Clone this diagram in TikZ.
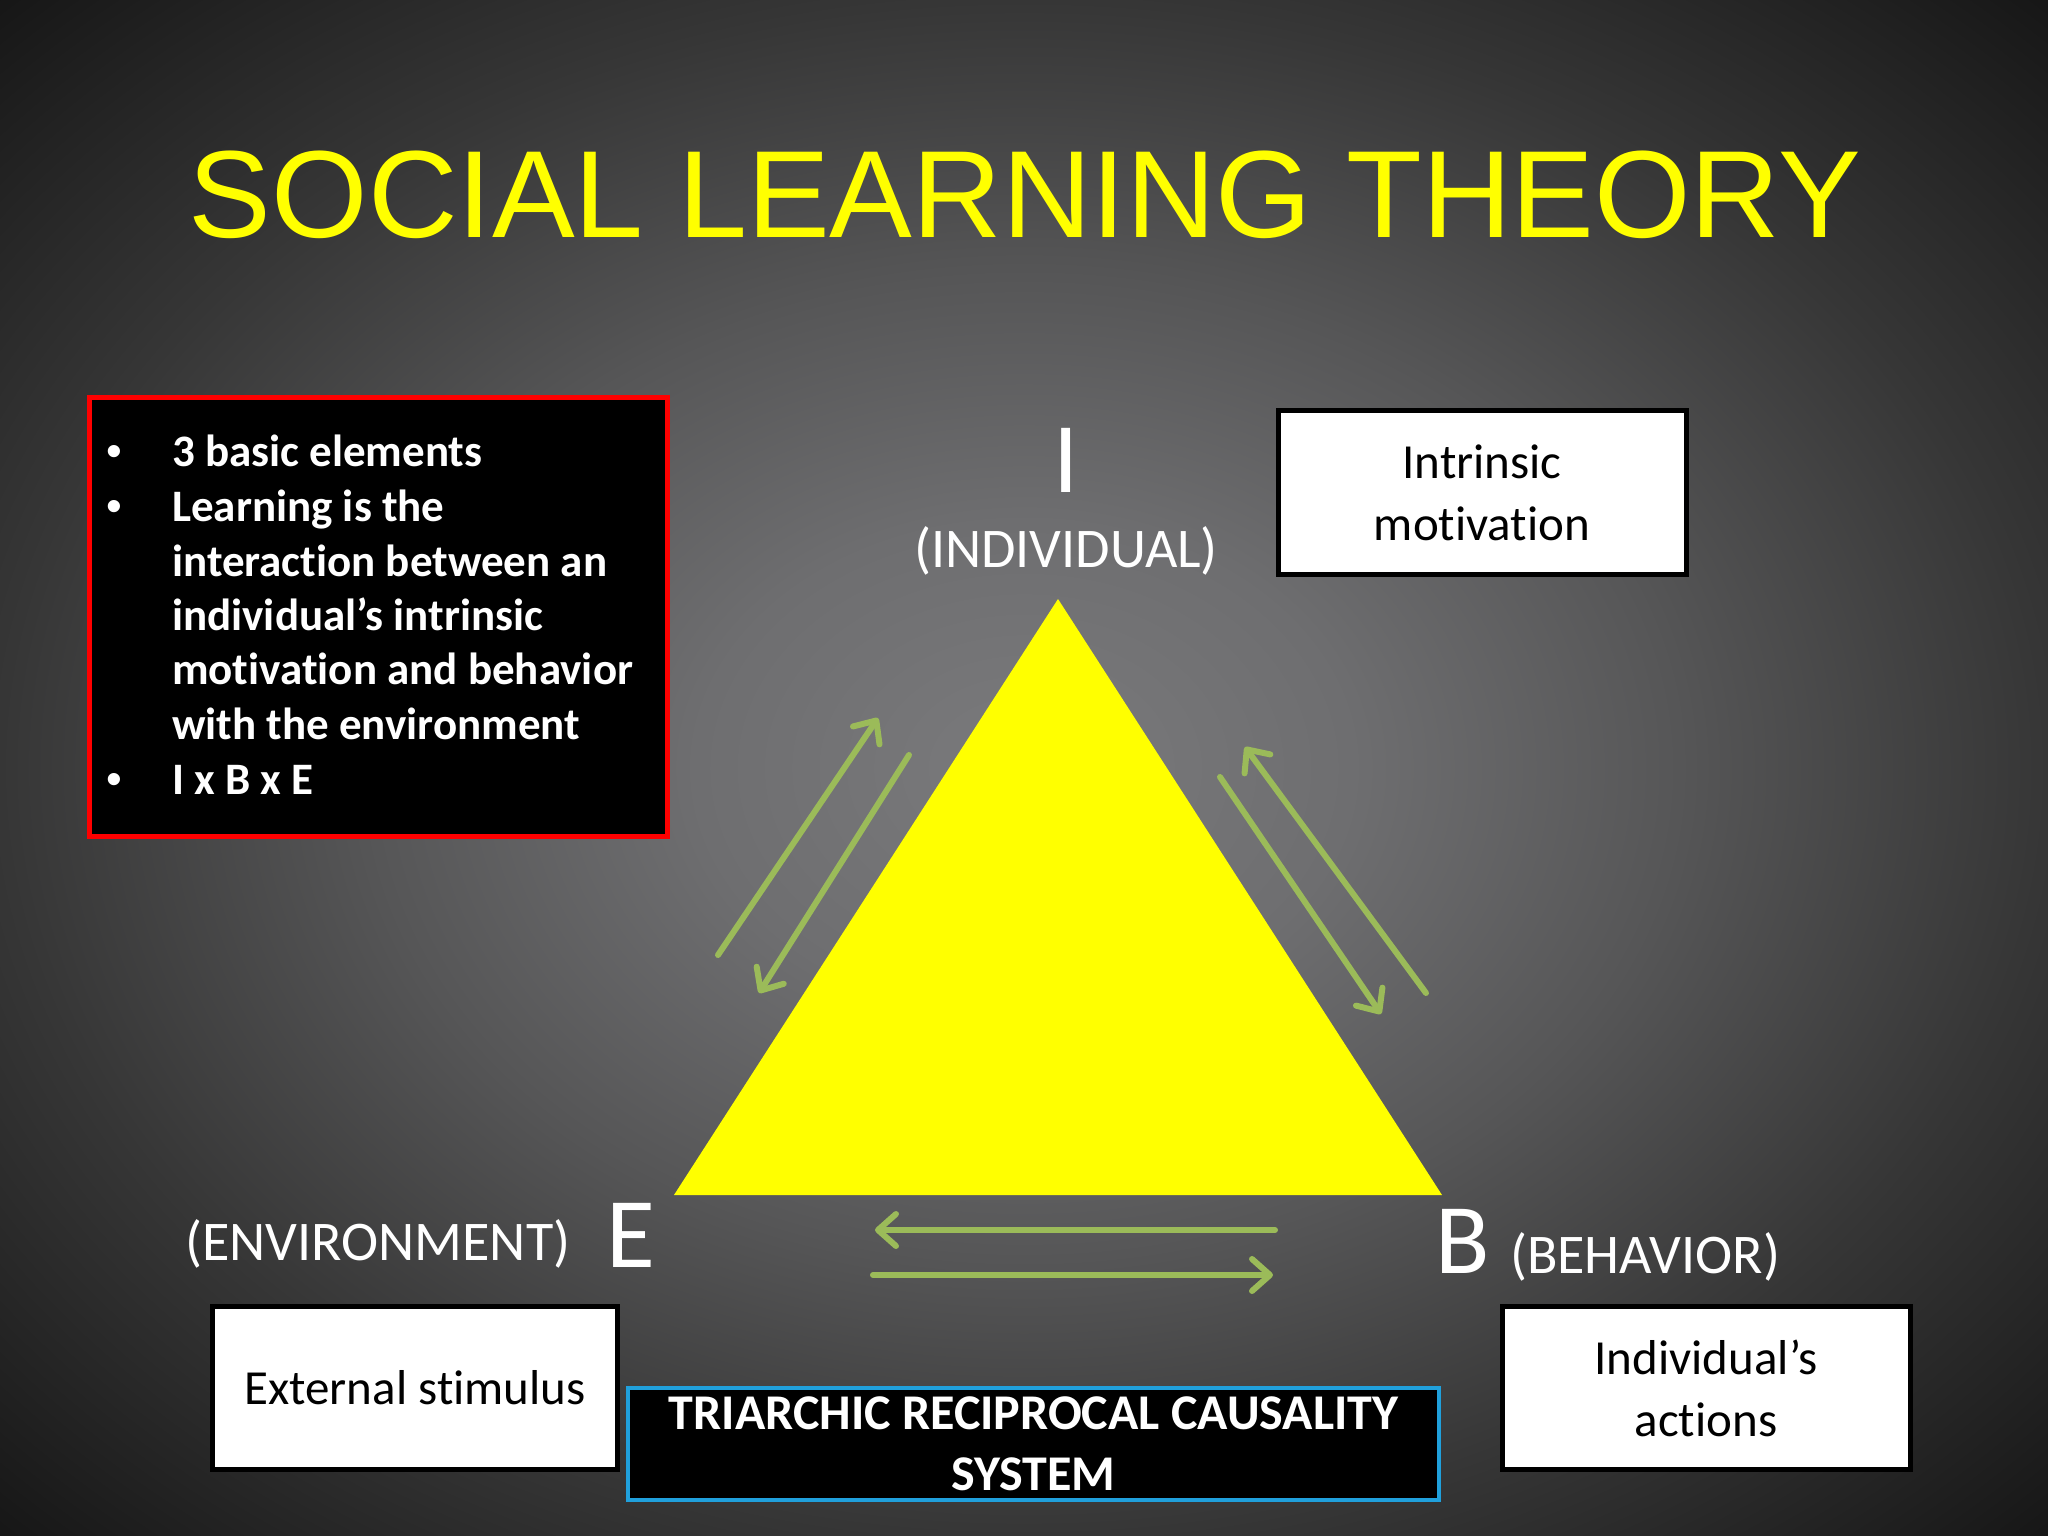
\documentclass[tikz,border=0pt]{standalone}
\usepackage{fontspec}
\setmainfont[Ligatures=NoCommon]{Carlito}
\newfontfamily\titlefont{Liberation Sans}
\usetikzlibrary{arrows.meta}
\definecolor{slyellow}{RGB}{255,255,0}
\definecolor{slgreen}{RGB}{155,187,89}
\definecolor{slred}{RGB}{255,0,0}
\definecolor{slblue}{RGB}{32,160,220}
\definecolor{bga}{RGB}{122,122,124}
\definecolor{bgb}{RGB}{110,110,112}
\definecolor{bgc}{RGB}{86,86,87}
\definecolor{bgd}{RGB}{54,54,54}
\definecolor{bge}{RGB}{22,22,22}
\pgfdeclareradialshading{bgshade}{\pgfpoint{0bp}{0bp}}{color(0bp)=(bga); color(8bp)=(bgb); color(16bp)=(bgc); color(25bp)=(bgd); color(35.5bp)=(bge); color(50bp)=(bge)}
\tikzset{
  btxt/.style={text=white, inner sep=0, anchor=base west, font=\fontsize{45bp}{54.6bp}\selectfont\bfseries},
  bul/.style={text=white, inner sep=0, anchor=base, font=\titlefont\fontsize{45bp}{54.6bp}\selectfont},
  lbl/.style={text=white, inner sep=0, font=\fontsize{56bp}{60bp}\selectfont},
  bigletter/.style={text=white, inner sep=0, font=\fontsize{100bp}{100bp}\selectfont},
  wbox/.style={draw=black, line width=5bp, fill=white, text=black, align=center, inner sep=0, font=\fontsize{49bp}{62bp}\selectfont},
  garrow/.style={draw=slgreen, line width=6bp, line cap=round, -{Straight Barb[length=18bp,width=32bp,round]}}
}
\begin{document}
\begin{tikzpicture}[x=1bp,y=-1bp]
\useasboundingbox (0,0) rectangle (2048,1536);
\shade[shading=bgshade] (0,0) rectangle (2048,1536);

% title
\node[font=\titlefont\fontsize{124bp}{124bp}\selectfont, text=slyellow, anchor=base, inner sep=0] (title) at (1025,237) {SOCIAL LEARNING THEORY};

% red box
\node[draw=slred, line width=5bp, fill=black, minimum width=578bp, minimum height=439bp, inner sep=0, anchor=north west] (redbox) at (86.5,394.5) {};
\node[bul] (b1) at (114,466) {•};
\node[bul] (b2) at (114,521) {•};
\node[bul] (b3) at (114,794) {•};
\node[btxt] (l1) at (172,466) {3 basic elements};
\node[btxt] (l2) at (172,521) {Learning is the};
\node[btxt] (l3) at (172,576) {interaction between an};
\node[btxt] (l4) at (172,630) {individual’s intrinsic};
\node[btxt] (l5) at (172,684) {motivation and behavior};
\node[btxt] (l6) at (172,739) {with the environment};
\node[btxt] (l7) at (172,794) {I x B x E};

% triangle
\coordinate (apex) at (1058,599);
\coordinate (tl) at (674,1195);
\coordinate (tr) at (1442,1195);
\fill[slyellow] (apex) -- (tl) -- (tr) -- cycle;

% arrows
\coordinate (a1s) at (718,955);  \coordinate (a1e) at (878,718);
\coordinate (a2s) at (909,755);  \coordinate (a2e) at (759,993);
\coordinate (a3s) at (1426,993); \coordinate (a3e) at (1245,747);
\coordinate (a4s) at (1220,777); \coordinate (a4e) at (1381,1014);
\coordinate (a5s) at (1275,1230); \coordinate (a5e) at (875,1230);
\coordinate (a6s) at (873,1275);  \coordinate (a6e) at (1273,1275);
\draw[garrow] (a1s) -- (a1e);
\draw[garrow] (a2s) -- (a2e);
\draw[garrow] (a3s) -- (a3e);
\draw[garrow] (a4s) -- (a4e);
\draw[garrow] (a5s) -- (a5e);
\draw[garrow] (a6s) -- (a6e);

% labels
\node[bigletter, anchor=base] (I) at (1066,492) {I};
\node[lbl, anchor=base] (ind) at (1066,567) {(INDIVIDUAL)};
\node[bigletter, anchor=base west] (E) at (606,1267) {E};
\node[lbl, anchor=base west] (env) at (185,1260) {(ENVIRONMENT)};
\node[bigletter, anchor=base west] (B) at (1435,1273) {B};
\node[lbl, anchor=base west] (beh) at (1510,1273) {(BEHAVIOR)};

% boxes
\node[wbox, minimum width=408bp, minimum height=164bp] (intr) at (1482,492.5) {Intrinsic\\motivation};
\node[wbox, minimum width=405bp, minimum height=163bp] (ext) at (415,1388) {External stimulus};
\node[wbox, minimum width=408bp, minimum height=163bp] (act) at (1706,1388) {Individual’s\\actions};
\node[draw=slblue, line width=4bp, fill=black, text=white, align=center, inner sep=0, minimum width=811bp, minimum height=112bp, font=\fontsize{50bp}{61bp}\selectfont\bfseries] (sys) at (1033.5,1444) {TRIARCHIC RECIPROCAL CAUSALITY\\SYSTEM};
\end{tikzpicture}
\end{document}
